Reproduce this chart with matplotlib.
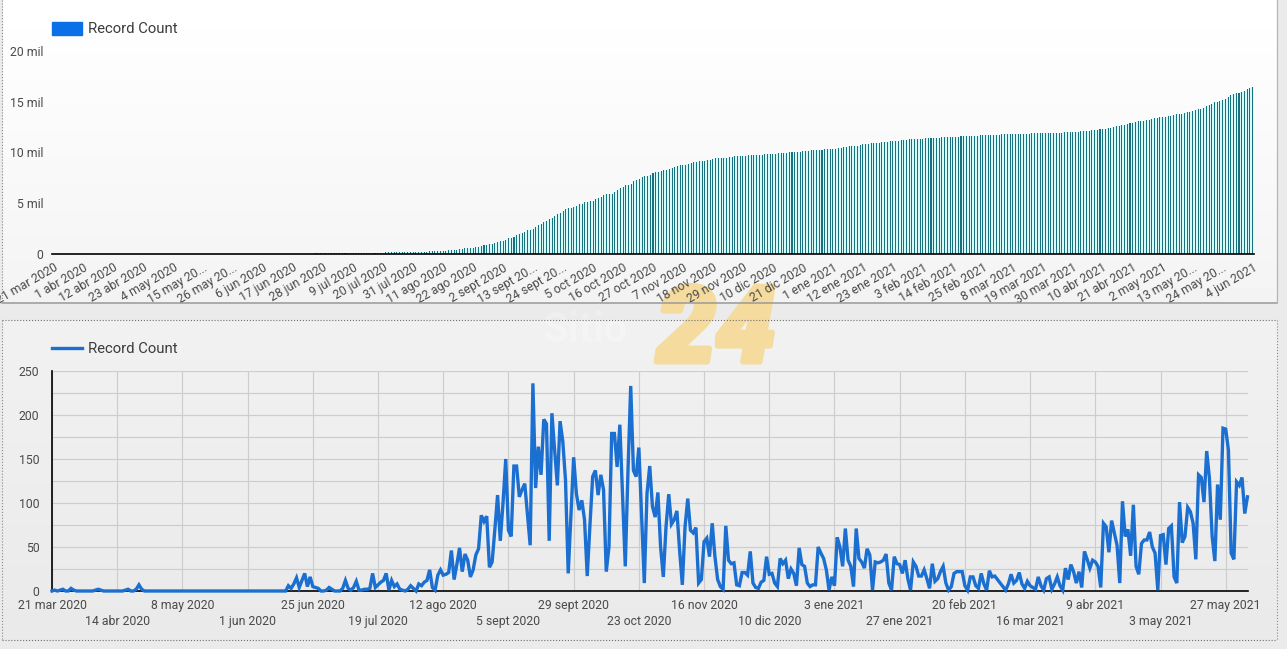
import numpy as np
import matplotlib
matplotlib.use("Agg")
import matplotlib.pyplot as plt
import matplotlib.patheffects as pe
from matplotlib.patches import Rectangle
from matplotlib.ticker import FuncFormatter

W, H = 1287, 649

plt.rcParams["font.family"] = ["Roboto", "DejaVu Sans"]

# cumulative records per day, in thousands ("mil")
total_records = [
    0.00, 0.00, 0.00, 0.00, 0.00, 0.01, 0.01, 0.01, 0.01, 0.01,
    0.01, 0.01, 0.01, 0.01, 0.01, 0.01, 0.01, 0.01, 0.01, 0.01,
    0.01, 0.01, 0.01, 0.01, 0.01, 0.01, 0.01, 0.01, 0.02, 0.02,
    0.02, 0.02, 0.03, 0.03, 0.03, 0.03, 0.03, 0.03, 0.03, 0.03,
    0.03, 0.03, 0.03, 0.03, 0.03, 0.03, 0.03, 0.03, 0.03, 0.03,
    0.03, 0.03, 0.03, 0.03, 0.03, 0.03, 0.03, 0.03, 0.03, 0.03,
    0.03, 0.03, 0.03, 0.03, 0.03, 0.03, 0.03, 0.03, 0.03, 0.03,
    0.03, 0.03, 0.03, 0.03, 0.03, 0.03, 0.03, 0.03, 0.03, 0.03,
    0.03, 0.03, 0.03, 0.03, 0.03, 0.03, 0.03, 0.03, 0.04, 0.04,
    0.05, 0.05, 0.05, 0.06, 0.07, 0.07, 0.08, 0.08, 0.08, 0.08,
    0.08, 0.08, 0.09, 0.09, 0.09, 0.09, 0.09, 0.09, 0.10, 0.10,
    0.10, 0.11, 0.12, 0.12, 0.12, 0.12, 0.12, 0.13, 0.15, 0.15,
    0.16, 0.17, 0.18, 0.20, 0.20, 0.21, 0.22, 0.23, 0.23, 0.23,
    0.23, 0.24, 0.24, 0.25, 0.25, 0.26, 0.26, 0.27, 0.28, 0.30,
    0.30, 0.31, 0.32, 0.35, 0.37, 0.39, 0.41, 0.46, 0.47, 0.50,
    0.55, 0.57, 0.61, 0.65, 0.66, 0.69, 0.73, 0.78, 0.87, 0.95,
    1.03, 1.06, 1.09, 1.16, 1.27, 1.33, 1.43, 1.58, 1.65, 1.71,
    1.85, 1.99, 2.10, 2.22, 2.34, 2.43, 2.48, 2.72, 2.83, 3.00,
    3.13, 3.32, 3.51, 3.57, 3.77, 3.93, 4.05, 4.24, 4.41, 4.54,
    4.56, 4.64, 4.79, 4.90, 4.99, 5.10, 5.18, 5.20, 5.27, 5.40,
    5.54, 5.65, 5.78, 5.90, 5.92, 5.97, 6.15, 6.33, 6.47, 6.66,
    6.77, 6.80, 6.93, 7.17, 7.30, 7.43, 7.60, 7.68, 7.69, 7.80,
    7.94, 8.04, 8.12, 8.23, 8.28, 8.30, 8.37, 8.48, 8.56, 8.64,
    8.73, 8.78, 8.79, 8.86, 8.96, 9.03, 9.10, 9.17, 9.18, 9.19,
    9.25, 9.31, 9.35, 9.43, 9.47, 9.48, 9.48, 9.49, 9.56, 9.60,
    9.63, 9.66, 9.67, 9.68, 9.70, 9.72, 9.74, 9.78, 9.79, 9.79,
    9.80, 9.81, 9.82, 9.86, 9.88, 9.90, 9.91, 9.91, 9.95, 9.98,
    10.02, 10.03, 10.06, 10.08, 10.08, 10.13, 10.16, 10.19, 10.20, 10.20,
    10.21, 10.22, 10.27, 10.31, 10.35, 10.37, 10.37, 10.39, 10.40, 10.46,
    10.51, 10.54, 10.61, 10.64, 10.67, 10.68, 10.75, 10.79, 10.82, 10.85,
    10.90, 10.94, 10.94, 10.97, 11.00, 11.04, 11.07, 11.11, 11.12, 11.12,
    11.16, 11.19, 11.22, 11.24, 11.28, 11.29, 11.29, 11.32, 11.35, 11.37,
    11.39, 11.41, 11.42, 11.42, 11.45, 11.46, 11.48, 11.50, 11.53, 11.54,
    11.54, 11.54, 11.56, 11.58, 11.60, 11.62, 11.63, 11.63, 11.65, 11.66,
    11.67, 11.67, 11.69, 11.70, 11.70, 11.72, 11.74, 11.76, 11.77, 11.78,
    11.78, 11.78, 11.79, 11.81, 11.82, 11.83, 11.85, 11.86, 11.86, 11.87,
    11.88, 11.88, 11.88, 11.90, 11.90, 11.90, 11.92, 11.93, 11.93, 11.94,
    11.96, 11.97, 11.97, 12.00, 12.01, 12.04, 12.06, 12.07, 12.09, 12.10,
    12.14, 12.18, 12.20, 12.24, 12.27, 12.30, 12.30, 12.38, 12.45, 12.50,
    12.58, 12.65, 12.70, 12.70, 12.80, 12.86, 12.93, 12.97, 13.07, 13.10,
    13.12, 13.17, 13.23, 13.29, 13.35, 13.40, 13.45, 13.45, 13.51, 13.57,
    13.60, 13.67, 13.75, 13.76, 13.77, 13.87, 13.93, 13.99, 14.09, 14.18,
    14.25, 14.29, 14.42, 14.55, 14.65, 14.81, 14.94, 15.00, 15.04, 15.16,
    15.24, 15.43, 15.61, 15.77, 15.81, 15.85, 15.97, 16.09, 16.22, 16.31,
    16.42,
]

# records per day
daily_records = [
    0, 1, 0, 1, 2, 0, 0, 3, 1, 0,
    0, 0, 0, 0, 0, 0, 1, 2, 1, 0,
    0, 0, 0, 0, 0, 0, 0, 1, 2, 0,
    0, 2, 7, 2, 0, 0, 0, 0, 0, 0,
    0, 0, 0, 0, 0, 0, 0, 0, 0, 0,
    0, 0, 0, 0, 0, 0, 0, 0, 0, 0,
    0, 0, 0, 0, 0, 0, 0, 0, 0, 0,
    0, 0, 0, 0, 0, 0, 0, 0, 0, 0,
    0, 0, 0, 0, 0, 0, 0, 6, 3, 8,
    15, 4, 12, 20, 5, 16, 5, 4, 3, 0,
    0, 1, 4, 2, 0, 0, 0, 3, 12, 3,
    1, 4, 11, 1, 1, 2, 2, 3, 20, 4,
    7, 10, 12, 20, 1, 12, 5, 8, 2, 1,
    0, 2, 6, 3, 0, 8, 6, 10, 12, 24,
    4, 1, 18, 24, 18, 19, 21, 46, 13, 30,
    49, 22, 42, 35, 16, 24, 41, 48, 86, 79,
    85, 27, 33, 70, 109, 57, 100, 150, 69, 62,
    142, 142, 107, 115, 122, 87, 52, 236, 117, 164,
    132, 195, 190, 57, 202, 160, 120, 193, 170, 126,
    20, 85, 152, 111, 92, 103, 81, 17, 75, 130,
    137, 109, 132, 115, 22, 50, 179, 179, 141, 189,
    110, 28, 137, 233, 137, 130, 163, 85, 9, 111,
    142, 96, 84, 112, 50, 16, 73, 110, 76, 81,
    91, 46, 7, 73, 105, 69, 66, 72, 9, 13,
    56, 60, 39, 77, 39, 13, 5, 2, 74, 35,
    31, 32, 7, 6, 21, 21, 18, 45, 9, 4,
    3, 10, 12, 39, 19, 20, 9, 5, 37, 31,
    35, 14, 25, 20, 6, 49, 30, 28, 9, 5,
    7, 7, 50, 43, 37, 24, 1, 16, 6, 61,
    50, 28, 71, 35, 28, 5, 71, 37, 33, 26,
    48, 41, 1, 33, 32, 33, 35, 42, 9, 1,
    39, 31, 30, 20, 35, 14, 1, 33, 28, 17,
    17, 24, 14, 3, 31, 11, 14, 22, 28, 9,
    1, 5, 20, 22, 22, 22, 6, 1, 16, 16,
    6, 3, 20, 8, 1, 23, 16, 17, 13, 9,
    5, 1, 8, 19, 9, 12, 21, 8, 3, 11,
    6, 4, 2, 16, 6, 1, 14, 16, 2, 8,
    16, 6, 1, 26, 13, 30, 22, 9, 22, 4,
    45, 36, 26, 35, 33, 28, 4, 77, 73, 44,
    80, 66, 52, 9, 102, 62, 70, 40, 98, 28,
    19, 54, 58, 58, 67, 50, 43, 1, 63, 64,
    30, 71, 74, 16, 9, 101, 55, 62, 95, 90,
    77, 36, 132, 129, 101, 159, 128, 62, 34, 121,
    81, 185, 184, 160, 43, 36, 124, 120, 129, 88,
    107,
]

top_tick_labels = [
    "21 mar 2020", "1 abr 2020", "12 abr 2020", "23 abr 2020", "4 may 2020",
    "15 may 20...", "26 may 20...", "6 jun 2020", "17 jun 2020", "28 jun 2020",
    "9 jul 2020", "20 jul 2020", "31 jul 2020", "11 ago 2020", "22 ago 2020",
    "2 sept 2020", "13 sept 20...", "24 sept 20...", "5 oct 2020", "16 oct 2020",
    "27 oct 2020", "7 nov 2020", "18 nov 2020", "29 nov 2020", "10 dic 2020",
    "21 dic 2020", "1 ene 2021", "12 ene 2021", "23 ene 2021", "3 feb 2021",
    "14 feb 2021", "25 feb 2021", "8 mar 2021", "19 mar 2021", "30 mar 2021",
    "10 abr 2021", "21 abr 2021", "2 may 2021", "13 may 20...", "24 may 20...",
    "4 jun 2021",
]
bottom_tick_labels = [
    "21 mar 2020", "14 abr 2020", "8 may 2020", "1 jun 2020", "25 jun 2020",
    "19 jul 2020", "12 ago 2020", "5 sept 2020", "29 sept 2020", "23 oct 2020",
    "16 nov 2020", "10 dic 2020", "3 ene 2021", "27 ene 2021", "20 feb 2021",
    "16 mar 2021", "9 abr 2021", "3 may 2021", "27 may 2021",
]
top_yticks = [0, 5, 10, 15, 20]
bottom_yticks = [0, 50, 100, 150, 200, 250]
series_name = "Record Count"

TEXT = "#4a4a4a"


def axes_px(fig, left, top, right, bottom):
    # pixel box from the top-left corner to figure fractions
    return fig.add_axes([left / W, 1 - bottom / H, (right - left) / W, (bottom - top) / H])


def panel_edge(fig, x0, y0, x1, y1, **kw):
    fig.add_artist(plt.Line2D([x0 / W, x1 / W], [1 - y0 / H, 1 - y1 / H], **kw))


fig = plt.figure(figsize=(W / 100, H / 100), dpi=100)

# page and card backgrounds
bg = fig.add_axes([0, 0, 1, 1], zorder=-10)
bg.axis("off")
shade = np.linspace(1.0, 0.955, 302)[:, None]
bg.imshow(shade, extent=[3, 1277, 302, 0], cmap="gray", vmin=0, vmax=1, aspect="auto")
shade = np.linspace(0.945, 0.915, 320)[:, None]
bg.imshow(shade, extent=[3, 1277, 640, 320], cmap="gray", vmin=0, vmax=1, aspect="auto")
bg.set_xlim(0, W)
bg.set_ylim(H, 0)
bg.add_patch(Rectangle((0, 0), W, H, color="#ebebeb", zorder=0))
for im in bg.images:
    im.set_zorder(1)

panel_edge(fig, 2, 0, 2, 302, color="#8a8a8a", lw=0.8, ls=":")
panel_edge(fig, 2, 302.5, 1277, 302.5, color="#9a9a9a", lw=1.1)
panel_edge(fig, 1277, 0, 1277, 302, color="#b5b5b5", lw=0.9)
panel_edge(fig, 2, 320, 1277, 320, color="#6e6e6e", lw=0.8, ls=":")
panel_edge(fig, 2, 640, 1277, 640, color="#6e6e6e", lw=0.8, ls=":")
panel_edge(fig, 2, 320, 2, 640, color="#8a8a8a", lw=0.8, ls=":")
panel_edge(fig, 1277, 320, 1277, 640, color="#8a8a8a", lw=0.8, ls=":")

# site watermark, behind the charts
fig.text(716 / W, 1 - 333 / H, "24", fontsize=76, fontweight="black", fontstyle="italic",
         color="#f5dc9e", ha="center", va="center", zorder=-5,
         path_effects=[pe.withStroke(linewidth=4, foreground="#f5dc9e")])
fig.text(585 / W, 1 - 331 / H, "Sitio", fontsize=30, fontweight="bold",
         color="white", alpha=0.22, ha="center", va="center", zorder=-5)

# top chart
ax1 = axes_px(fig, 52, 50.7, 1254, 254.3)
ax1.patch.set_visible(False)
days = np.arange(len(total_records))
ax1.bar(days, total_records, width=1.0, color="#d9f8f8")
ax1.bar(days, total_records, width=0.38, color="#17717f", label=series_name)
ax1.set_xlim(-0.5, len(total_records) - 0.5)
ax1.set_ylim(0, 20)
ax1.set_yticks(top_yticks)
ax1.yaxis.set_major_formatter(FuncFormatter(lambda v, p: "0" if v == 0 else f"{v:.0f} mil"))
ax1.set_xticks(days[::11])
ax1.set_xticklabels(top_tick_labels, rotation=30, ha="right", rotation_mode="anchor")
ax1.tick_params(axis="x", length=0, pad=5, labelsize=8.8, colors=TEXT)
ax1.tick_params(axis="y", length=0, pad=6, labelsize=8.8, colors=TEXT)
for name in ["top", "left", "right"]:
    ax1.spines[name].set_visible(False)
ax1.spines["bottom"].set_linewidth(1.2)
ax1.spines["bottom"].set_color("black")

# bottom chart
ax2 = axes_px(fig, 52, 371, 1248, 591)
ax2.patch.set_visible(False)
ax2.plot(np.arange(len(daily_records)), daily_records, color="#1a6fd0", lw=2.4,
         clip_on=False, zorder=3, solid_joinstyle="miter", label=series_name)
ax2.set_xlim(0, 440.2)
ax2.set_ylim(0, 250)
ax2.set_yticks(bottom_yticks)
ax2.set_yticks(np.arange(25, 250, 50), minor=True)
ax2.set_xticks(np.arange(0, 433, 24))
labels2 = [t if i % 2 == 0 else "\n" + t for i, t in enumerate(bottom_tick_labels)]
ax2.set_xticklabels(labels2, linespacing=1.25)
ax2.grid(True, which="both", color="#cdcdcd", lw=0.85)
ax2.set_axisbelow(True)
ax2.tick_params(axis="both", which="both", length=0)
ax2.tick_params(axis="x", pad=6, labelsize=8.8, colors=TEXT)
ax2.tick_params(axis="y", pad=9, labelsize=8.8, colors=TEXT)
for name in ["top", "right"]:
    ax2.spines[name].set_visible(False)
for name in ["left", "bottom"]:
    ax2.spines[name].set_linewidth(1.2)
    ax2.spines[name].set_color("black")

# legends sit above each plot, starting at the left edge
leg_kw = dict(frameon=False, fontsize=10.7, labelcolor="#3c3c3c", handlelength=2.0,
              handletextpad=0.4, borderaxespad=0, borderpad=0)
ax1.legend(handles=[Rectangle((0, 0), 1, 1, color="#0b6fe8")], labels=[series_name],
           handleheight=1.05, loc="center left",
           bbox_to_anchor=(0, (254.3 - 29) / (254.3 - 50.7)), **leg_kw)
ax2.legend(handles=ax2.get_lines()[:1], labels=[series_name], loc="center left",
           bbox_to_anchor=(0, (591 - 349) / 220), **leg_kw)

fig.savefig("out.png", dpi=100)
